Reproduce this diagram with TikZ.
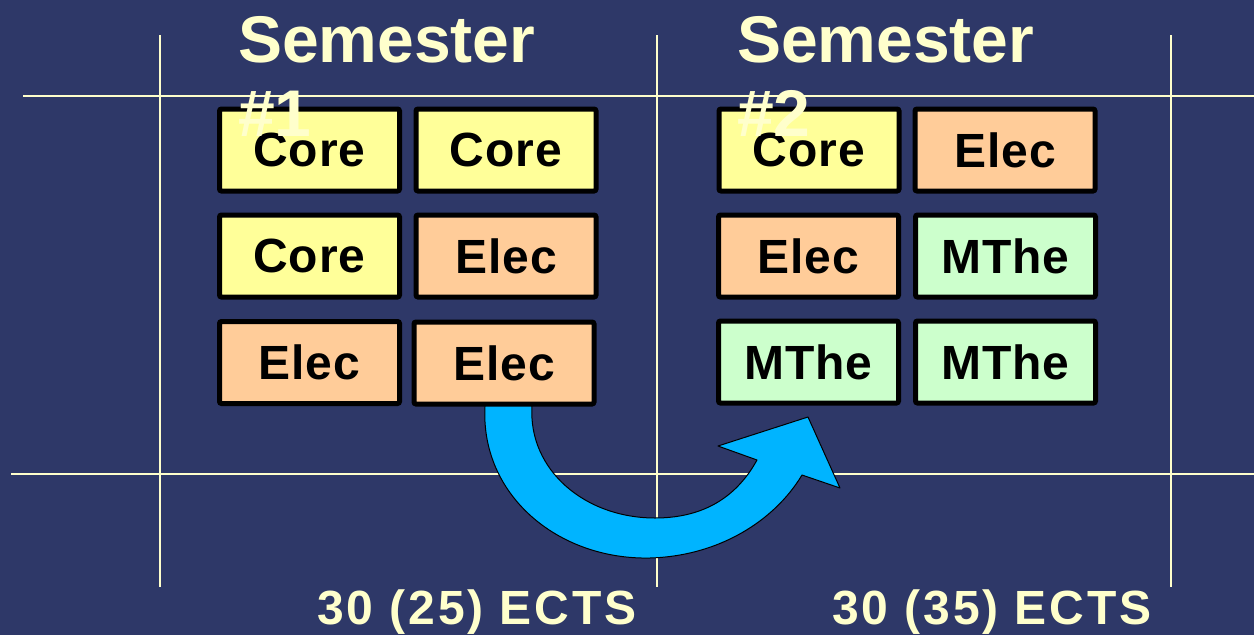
\documentclass[tikz,border=0pt]{standalone}
\usepackage{fontspec}
\setmainfont{Liberation Sans}
\newfontfamily\ectsfont{Liberation Sans}[LetterSpace=6]
\newfontfamily\boxfont{Liberation Sans}[LetterSpace=2]
\definecolor{bgnavy}{RGB}{46,56,104}
\definecolor{cream}{RGB}{255,255,204}
\definecolor{corefill}{RGB}{255,255,153}
\definecolor{elecfill}{RGB}{255,204,153}
\definecolor{mthefill}{RGB}{204,255,204}
\definecolor{arrowblue}{RGB}{0,180,255}
\tikzset{
  gridline/.style={draw=cream, line width=2.5pt},
  course/.style={draw=black, line width=5pt, rounded corners=2pt,
    minimum width=180pt, minimum height=82pt, inner sep=0pt,
    font=\fontsize{48}{56}\boxfont\bfseries, text=black},
  core/.style={course, fill=corefill},
  elec/.style={course, fill=elecfill},
  mthe/.style={course, fill=mthefill},
  title/.style={anchor=base west, inner sep=0pt, text=cream,
    font=\fontsize{66}{74}\selectfont\bfseries},
  ects/.style={anchor=base west, inner sep=0pt, text=cream,
    font=\fontsize{48}{56}\ectsfont\bfseries},
  bigarrow/.style={fill=arrowblue, draw=black, line width=1pt, line join=round}
}
\begin{document}
\begin{tikzpicture}[x=1pt, y=-1pt]
  \fill[bgnavy] (0,0) rectangle (1254,635);
  \useasboundingbox (0,0) rectangle (1254,635);
  % grid lines
  \coordinate (v1t) at (160,35);  \coordinate (v1b) at (160,587);
  \coordinate (v2t) at (657,35);  \coordinate (v2b) at (657,587);
  \coordinate (v3t) at (1171,35); \coordinate (v3b) at (1171,587);
  \coordinate (h1l) at (23,96);   \coordinate (h1r) at (1254,96);
  \coordinate (h2l) at (11,474);  \coordinate (h2r) at (1254,474);
  \draw[gridline] (v1t) -- (v1b);
  \draw[gridline] (v2t) -- (v2b);
  \draw[gridline] (v3t) -- (v3b);
  \draw[gridline] (h1l) -- (h1r);
  \draw[gridline] (h2l) -- (h2r);
  % semester 1
  \node[core] (l11) at (309.5,150) {Core};
  \node[core] (l12) at (506,150) {Core};
  \node[core] (l21) at (309.5,256) {Core};
  \node[elec] (l22) at (506,256) {Elec};
  \node[elec] (l31) at (309.5,362.5) {Elec};
  \node[elec] (l32) at (504,363) {Elec};
  % semester 2
  \node[core] (r11) at (809,150) {Core};
  \node[elec] (r12) at (1005,150) {Elec};
  \node[elec] (r21) at (808.5,256) {Elec};
  \node[mthe] (r22) at (1005.5,256) {MThe};
  \node[mthe] (r31) at (808.5,362) {MThe};
  \node[mthe] (r32) at (1005.5,362) {MThe};
  % titles
  \node[title] (t1a) at (238,62) {Semester};
  \node[title] (t1b) at (238,136) {\#1};
  \node[title] (t2a) at (737,62) {Semester};
  \node[title] (t2b) at (737,136) {\#2};
  % curved arrow
  \draw[bigarrow] (485,406) .. controls (480,495) and (558,560) .. (650,558)
    .. controls (720,556) and (775,520) .. (802,475)
    -- (840,488) -- (808,417) -- (718,446) -- (757,460)
    .. controls (735,500) and (700,518) .. (655,518)
    .. controls (585,518) and (528,470) .. (532,406) -- cycle;
  % ECTS
  \node[ects] (e1) at (317,624) {30 (25) ECTS};
  \node[ects] (e2) at (832,624) {30 (35) ECTS};
\end{tikzpicture}
\end{document}
